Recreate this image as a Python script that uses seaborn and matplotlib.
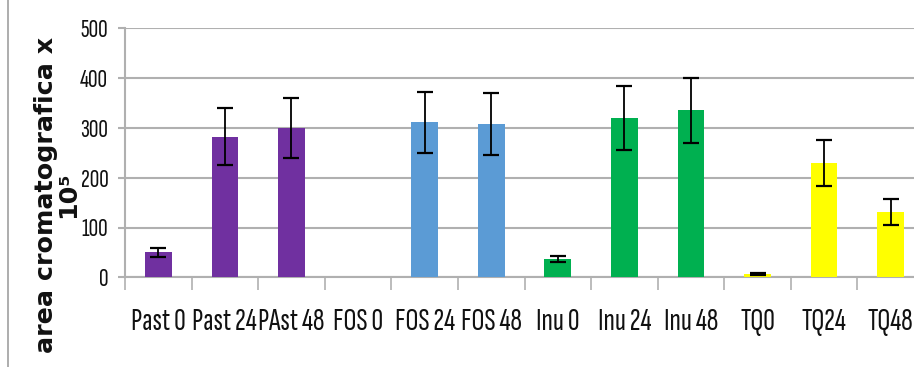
import numpy as np
import pandas as pd
import matplotlib
matplotlib.use("Agg")
import matplotlib.pyplot as plt
import seaborn as sns
from matplotlib import font_manager
from matplotlib.font_manager import FontProperties
from matplotlib.textpath import TextPath

categories = ["Past 0", "Past 24", "PAst 48", "FOS 0", "FOS 24", "FOS 48",
              "Inu 0", "Inu 24", "Inu 48", "TQ0", "TQ24", "TQ48"]
values = [50, 282, 300, 0, 311, 308, 37, 320, 335, 7, 230, 131]
errors = [9, 57, 60, 0, 62, 62, 6, 65, 66, 2, 46, 26]
groups = ["Past", "Past", "Past", "FOS", "FOS", "FOS",
          "Inu", "Inu", "Inu", "TQ", "TQ", "TQ"]
group_colors = {"Past": "#7030A0", "FOS": "#5B9BD5", "Inu": "#00B050", "TQ": "#FFFF00"}
y_ticks = [0, 100, 200, 300, 400, 500]
y_title = "area cromatografica x\n10\u2075"

DPI = 100
sns.set_theme(style="white")

installed = {f.name for f in font_manager.fontManager.ttflist}
tick_family = "Sofia Sans Extra Condensed" if "Sofia Sans Extra Condensed" in installed else "DejaVu Sans"
plt.rcParams["font.family"] = [tick_family, "DejaVu Sans"]


def size_for_width(text, px, family, weight="normal"):
    """Font size in points that makes `text` about `px` pixels wide."""
    fp = FontProperties(family=family, weight=weight)
    w = TextPath((0, 0), text, size=100, prop=fp).get_extents().width
    return px * 72 / DPI * 100 / w


x_size = size_for_width("Past 0", 52, tick_family, "medium")
y_size = size_for_width("500", 26, tick_family, "medium")
title_size = size_for_width("area cromatografica x", 314, "DejaVu Sans", "bold")

df = pd.DataFrame({"cat": categories, "val": values, "grp": groups})

fig = plt.figure(figsize=(9.14, 3.67), dpi=DPI)
ax = fig.add_axes([125 / 914, 1 - 277.3 / 367, 799 / 914, 249 / 367])

sns.barplot(data=df, x="cat", y="val", hue="grp", palette=group_colors,
            saturation=1, dodge=False, width=0.4, legend=False, ax=ax,
            zorder=3, edgecolor="none")

xpos = np.arange(len(categories))
has_err = np.array(errors) > 0
ax.errorbar(xpos[has_err], np.array(values)[has_err], yerr=np.array(errors)[has_err],
            fmt="none", ecolor="black", elinewidth=1.3, capsize=6, capthick=1.6, zorder=4)

ax.set_ylim(0, 500)
ax.set_xlim(-0.5, len(categories) - 0.5)
ax.set_yticks(y_ticks)
ax.set_yticklabels([str(t) for t in y_ticks], fontsize=y_size, fontweight="medium")
ax.yaxis.grid(True, color="#B0B0B0", linewidth=1.5, zorder=0)
ax.set_axisbelow(True)
ax.tick_params(axis="y", length=5, color="#B0B0B0", width=1.5, pad=7, left=True,
               labelcolor="#111111")

# category boundaries carry the tick marks, category centres carry the labels
ax.set_xticks(np.arange(-0.5, len(categories)), minor=False)
ax.set_xticklabels([""] * (len(categories) + 1))
ax.set_xticks(xpos, minor=True)
ax.set_xticklabels(categories, minor=True, fontsize=x_size, fontweight="medium")
ax.tick_params(axis="x", which="major", length=9, color="#B0B0B0", width=1.2, bottom=True)
ax.tick_params(axis="x", which="minor", length=0, pad=22, labelcolor="#111111")
ax.set_xlabel("")
ax.set_ylabel("")

for s in ["top", "right"]:
    ax.spines[s].set_visible(False)
for s in ["left", "bottom"]:
    ax.spines[s].set_color("#B0B0B0")
    ax.spines[s].set_linewidth(1.5)

fig.text(57 / 914, 1 - 195 / 367, y_title, rotation=90, ha="center", va="center",
         multialignment="center", fontsize=title_size, fontweight="bold",
         family="DejaVu Sans", linespacing=0.9, color="#111111")

fig.add_artist(plt.Line2D([8 / 914, 8 / 914], [0, 1], color="#A0A0A0", linewidth=1.2))

fig.savefig("out.png", dpi=DPI)
